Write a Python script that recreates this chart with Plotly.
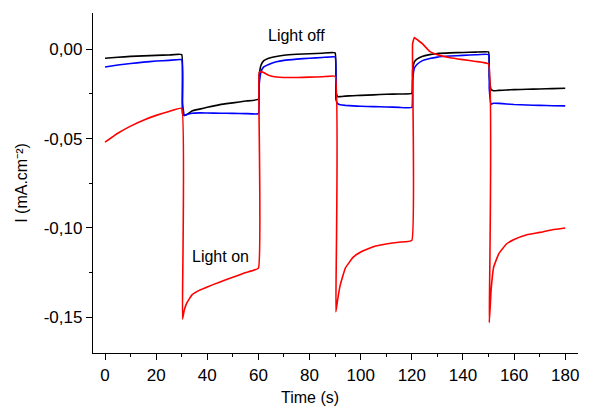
import plotly.graph_objects as go

time_s = [0, 5, 10, 15, 20, 25, 30,
          30.3, 31, 32, 34, 37, 40, 45, 50, 55, 60,
          60.3, 61, 62, 64, 67, 70, 75, 80, 85, 90,
          90.3, 91, 92, 94, 97, 100, 105, 110, 115, 120,
          120.3, 121, 122, 124, 127, 130, 135, 140, 145, 150,
          150.3, 151, 152, 154, 157, 160, 165, 170, 175, 180]

current_black = [-0.0050, -0.0045, -0.0040, -0.0037, -0.0034, -0.0032, -0.0030,
                 -0.0360, -0.0370, -0.0365, -0.0345, -0.0335, -0.0325, -0.0310, -0.0300, -0.0290, -0.0280,
                 -0.0150, -0.0090, -0.0065, -0.0050, -0.0040, -0.0033, -0.0028, -0.0025, -0.0022, -0.0020,
                 -0.0240, -0.0266, -0.0265, -0.0262, -0.0260, -0.0258, -0.0255, -0.0252, -0.0250, -0.0247,
                 -0.0120, -0.0070, -0.0055, -0.0040, -0.0030, -0.0024, -0.0020, -0.0018, -0.0016, -0.0015,
                 -0.0150, -0.0225, -0.0232, -0.0230, -0.0228, -0.0226, -0.0224, -0.0222, -0.0220, -0.0218]

current_blue = [-0.0099, -0.0088, -0.0080, -0.0072, -0.0066, -0.0062, -0.0058,
                -0.0300, -0.0370, -0.0365, -0.0358, -0.0356, -0.0357, -0.0358, -0.0359, -0.0360, -0.0360,
                -0.0200, -0.0127, -0.0100, -0.0085, -0.0070, -0.0062, -0.0055, -0.0050, -0.0046, -0.0043,
                -0.0280, -0.0304, -0.0310, -0.0314, -0.0317, -0.0319, -0.0321, -0.0323, -0.0325, -0.0326,
                -0.0180, -0.0105, -0.0085, -0.0065, -0.0052, -0.0044, -0.0038, -0.0034, -0.0031, -0.0030,
                -0.0220, -0.0307, -0.0302, -0.0303, -0.0306, -0.0309, -0.0312, -0.0314, -0.0316, -0.0317]

current_red = [-0.0520, -0.0470, -0.0430, -0.0397, -0.0370, -0.0348, -0.0330,
               -0.1510, -0.1460, -0.1420, -0.1375, -0.1348, -0.1330, -0.1302, -0.1276, -0.1250, -0.1225,
               -0.0130, -0.0125, -0.0130, -0.0145, -0.0155, -0.0158, -0.0158, -0.0156, -0.0154, -0.0151,
               -0.1470, -0.1400, -0.1320, -0.1225, -0.1165, -0.1135, -0.1105, -0.1090, -0.1080, -0.1070,
               0.0030, 0.0066, 0.0055, 0.0033, -0.0012, -0.0030, -0.0047, -0.0058, -0.0068, -0.0082,
               -0.1530, -0.1350, -0.1220, -0.1145, -0.1090, -0.1065, -0.1038, -0.1025, -0.1010, -0.1000]

x_tick_vals = [0, 20, 40, 60, 80, 100, 120, 140, 160, 180]
y_tick_vals = [0.0, -0.05, -0.10, -0.15]
y_tick_text = ["0,00", "-0,05", "-0,10", "-0,15"]

labels_text = ["Light off", "Light on"]
labels_x = [75, 45]
labels_y = [0.0078, -0.116]

FONT = "Liberation Sans, Arial, sans-serif"

fig = go.Figure()
for vals, col in [(current_black, "#000000"), (current_blue, "#0000ff"), (current_red, "#ff0000")]:
    fig.add_trace(go.Scatter(x=time_s, y=vals, mode="lines",
                             line=dict(color=col, width=1.6, shape="spline", smoothing=0.3),
                             showlegend=False, hoverinfo="skip"))

for t, xx, yy in zip(labels_text, labels_x, labels_y):
    fig.add_annotation(x=xx, y=yy, text=t, showarrow=False,
                       font=dict(family=FONT, size=16, color="#000000"))

fig.add_annotation(x=0.447, y=-0.13, xref="paper", yref="paper", text="Time (s)",
                   showarrow=False, yanchor="middle",
                   font=dict(family=FONT, size=16, color="#000000"))

fig.update_layout(
    width=600, height=413,
    margin=dict(l=93, r=22, t=13, b=60),
    paper_bgcolor="white", plot_bgcolor="white",
    font=dict(family=FONT, size=16, color="#000000"),
    xaxis=dict(range=[-4.7, 185], showgrid=False, zeroline=False,
               showline=True, linecolor="#000000", linewidth=1.3,
               ticks="outside", ticklen=6, tickwidth=1.3, tickcolor="#000000",
               tickvals=x_tick_vals,
               minor=dict(ticks="outside", ticklen=3, tickwidth=1.3, tickcolor="#000000", dtick=10, showgrid=False),
               tickfont=dict(family=FONT, size=17)),
    yaxis=dict(range=[-0.170, 0.0203], showgrid=False, zeroline=False,
               showline=True, linecolor="#000000", linewidth=1.3,
               ticks="outside", ticklen=6, tickwidth=1.3, tickcolor="#000000",
               tickvals=y_tick_vals, ticktext=y_tick_text,
               minor=dict(ticks="outside", ticklen=3, tickwidth=1.3, tickcolor="#000000",
                          tickvals=[-0.025, -0.075, -0.125], showgrid=False),
               tickfont=dict(family=FONT, size=17),
               title=dict(text="I (mA.cm⁻²)", font=dict(family=FONT, size=16), standoff=12)),
)

fig.write_html("out.html", config={"displayModeBar": False},
               post_script="document.body.style.margin='0';document.body.style.padding='0';")
